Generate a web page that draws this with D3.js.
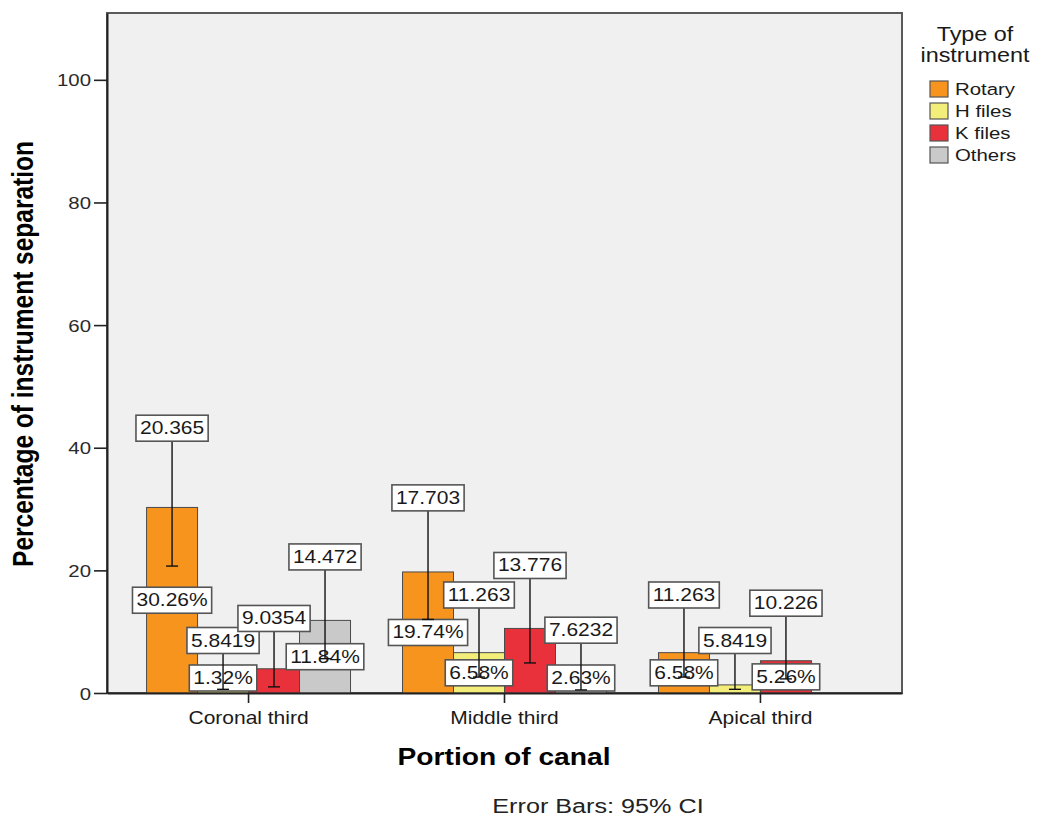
<!DOCTYPE html>
<html><head><meta charset="utf-8">
<script src="https://cdn.jsdelivr.net/npm/d3@7"></script>
<style>
body{margin:0;background:#fff;}
svg{display:block;font-family:"Liberation Sans",Arial,sans-serif;}
</style></head><body>
<svg id="chart" width="1038" height="817"></svg>
<script>
// ---- data ----
const categories = ["Coronal third", "Middle third", "Apical third"];
const seriesNames = ["Rotary", "H files", "K files", "Others"];
const seriesColors = ["#f7941e", "#f3ee7a", "#e8313b", "#c9c9c9"];

// percentage of instrument separation in each portion of the canal
const rotaryPct = [30.26, 19.74, 6.58];
const hFilesPct = [1.32, 6.58, 1.32];
const kFilesPct = [3.95, 10.53, 5.26];
const othersPct = [11.84, 2.63, 0];

// lower end of each 95% confidence interval
const rotaryLow = [20.7, 12.0, 2.6];
const hFilesLow = [0.6, 2.6, 0.6];
const kFilesLow = [1.0, 4.9, 2.3];
const othersLow = [5.6, 0.5, null];

// width of each 95% confidence interval (upper - lower), printed above the bar
const rotaryCI = [20.365, 17.703, 11.263];
const hFilesCI = [5.8419, 11.263, 5.8419];
const kFilesCI = [9.0354, 13.776, 10.226];
const othersCI = [14.472, 7.6232, null];

const yTicks = [0, 20, 40, 60, 80, 100];
const yMax = 110.9;

// ---- setup ----
const SX = 1.2; // horizontal text stretch
const pctSeries = [rotaryPct, hFilesPct, kFilesPct, othersPct];
const lowSeries = [rotaryLow, hFilesLow, kFilesLow, othersLow];
const ciSeries = [rotaryCI, hFilesCI, kFilesCI, othersCI];

const rows = [];
categories.forEach((c, i) => {
  seriesNames.forEach((s, j) => {
    rows.push({cat: c, series: s, idx: j, pct: pctSeries[j][i], low: lowSeries[j][i], ci: ciSeries[j][i]});
  });
});

const plot = {left: 107, top: 13, right: 902, bottom: 693};
const svg = d3.select("#chart");

const x = d3.scaleBand().domain(categories).range([plot.left, plot.right]).paddingInner(0).paddingOuter(0.053);
const xs = d3.scaleBand().domain(seriesNames).range([0, x.bandwidth()]).paddingInner(0).paddingOuter(0.51);
const y = d3.scaleLinear().domain([0, yMax]).range([plot.bottom, plot.top]);
const color = d3.scaleOrdinal().domain(seriesNames).range(seriesColors);

function sText(parent, tx, ty, str, size, opts = {}) {
  const t = parent.append("text")
    .attr("transform", `translate(${tx},${ty}) scale(${SX},1)` + (opts.rotate ? ` rotate(${opts.rotate})` : ""))
    .attr("text-anchor", opts.anchor || "middle")
    .attr("font-size", size)
    .attr("font-weight", opts.bold ? "bold" : null)
    .attr("fill", opts.fill || "#1a1a1a")
    .text(str);
  return t;
}

// plot background + frame
svg.append("rect")
  .attr("x", plot.left).attr("y", plot.top)
  .attr("width", plot.right - plot.left).attr("height", plot.bottom - plot.top)
  .attr("fill", "#f0f0f0").attr("stroke", "#5a5a5a").attr("stroke-width", 2);

// bars
const bx = d => x(d.cat) + xs(d.series);
svg.append("g").selectAll("rect").data(rows.filter(d => d.pct > 0)).join("rect")
  .attr("x", bx).attr("y", d => y(d.pct))
  .attr("width", xs.bandwidth()).attr("height", d => y(0) - y(d.pct))
  .attr("fill", d => color(d.series))
  .attr("stroke", "#4a4a4a").attr("stroke-width", 1);

// box label helper
const boxH = 26;
const labelSize = 17.5;
function boxLabel(g, cx, cy, str) {
  const grp = g.append("g");
  const rect = grp.append("rect");
  const t = sText(grp, cx, cy + 6, str, labelSize);
  const w = t.node().getComputedTextLength() * SX + 8;
  rect.attr("x", cx - w / 2).attr("y", cy - boxH / 2).attr("width", w).attr("height", boxH)
    .attr("fill", "#fff").attr("stroke", "#555").attr("stroke-width", 1.6);
  return {x0: cx - w / 2, x1: cx + w / 2, y0: cy - boxH / 2, y1: cy + boxH / 2};
}

// percentage labels at the bar middle, skipping those that would collide
const pctFmt = d3.format(".2f");
const pctLayer = svg.append("g");
const placed = [];
rows.forEach(d => {
  if (!(d.pct > 0)) return;
  const cx = bx(d) + xs.bandwidth() / 2;
  const cy = Math.min(y(d.pct / 2), y(0) - boxH / 2 - 2);
  const probe = pctLayer.append("text").attr("font-size", labelSize).text(pctFmt(d.pct) + "%");
  const w = probe.node().getComputedTextLength() * SX + 8;
  probe.remove();
  const b = {x0: cx - w / 2, x1: cx + w / 2, y0: cy - boxH / 2, y1: cy + boxH / 2};
  const hit = placed.some(p => b.x0 < p.x1 && b.x1 > p.x0 && b.y0 < p.y1 && b.y1 > p.y0);
  if (hit) return;
  placed.push(boxLabel(pctLayer, cx, cy, pctFmt(d.pct) + "%"));
});

// error bars
const eb = svg.append("g").attr("stroke", "#111").attr("stroke-width", 1.4);
const ciRows = rows.filter(d => d.ci != null);
ciRows.forEach(d => {
  const cx = bx(d) + xs.bandwidth() / 2;
  const lo = Math.max(0, d.low), hi = d.low + d.ci;
  eb.append("line").attr("x1", cx).attr("x2", cx).attr("y1", y(lo)).attr("y2", y(hi));
  eb.append("line").attr("x1", cx - 6).attr("x2", cx + 6).attr("y1", y(lo)).attr("y2", y(lo));
});

// CI width labels sitting on top of each error bar
const ciFmt = d3.format(".5g");
const ciLayer = svg.append("g");
ciRows.forEach(d => {
  const cx = bx(d) + xs.bandwidth() / 2;
  const hi = d.low + d.ci;
  boxLabel(ciLayer, cx, y(hi) - boxH / 2, ciFmt(d.ci));
});

// y axis
const yAxis = svg.append("g").attr("transform", `translate(${plot.left},0)`)
  .call(d3.axisLeft(y).tickValues(yTicks).tickSize(13).tickSizeOuter(0).tickPadding(3));
yAxis.select(".domain").attr("stroke", "#222").attr("stroke-width", 2);
yAxis.selectAll(".tick line").attr("stroke", "#222").attr("stroke-width", 1.6);
yAxis.selectAll(".tick text")
  .attr("x", 0).attr("dy", null)
  .attr("transform", "translate(-16,6) scale(" + SX + ",1)")
  .attr("font-size", 17).attr("font-family", null).attr("fill", "#2a2a2a");

// x axis
const xAxis = svg.append("g").attr("transform", `translate(0,${plot.bottom})`)
  .call(d3.axisBottom(x).tickSize(10).tickSizeOuter(0));
xAxis.select(".domain").attr("stroke", "#222").attr("stroke-width", 2);
xAxis.selectAll(".tick line").attr("stroke", "#222").attr("stroke-width", 1.6);
xAxis.selectAll(".tick text")
  .attr("y", 0).attr("dy", null)
  .attr("transform", "translate(0,31) scale(" + SX + ",1)")
  .attr("font-size", 17.5).attr("font-family", null).attr("fill", "#1a1a1a");

// axis titles and footnote
sText(svg, 504, 765, "Portion of canal", 23.5, {bold: true, fill: "#000"});
sText(svg, 33, 354, "Percentage of instrument separation", 24.5, {bold: true, fill: "#000", rotate: -90});
sText(svg, 598, 813, "Error Bars: 95% CI", 21, {fill: "#222"});

// legend
const lg = svg.append("g");
sText(lg, 975, 41, "Type of", 19.5);
sText(lg, 975, 62, "instrument", 19.5);
seriesNames.forEach((s, i) => {
  const top = 81 + i * 22;
  lg.append("rect").attr("x", 930).attr("y", top).attr("width", 18).attr("height", 16)
    .attr("fill", color(s)).attr("stroke", "#555").attr("stroke-width", 1.2);
  sText(lg, 955, top + 14, s, 17, {anchor: "start"});
});
</script>
</body></html>
